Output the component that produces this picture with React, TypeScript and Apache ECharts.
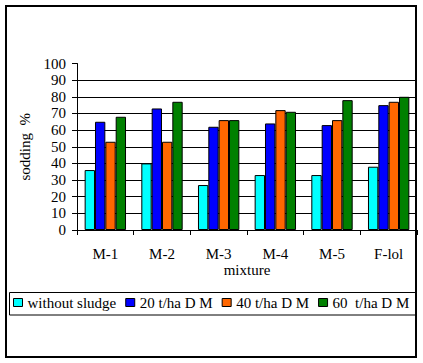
import React, { useEffect, useRef } from "react";
import * as echarts from "echarts";

const categories = ["M-1", "M-2", "M-3", "M-4", "M-5", "F-lol"];
const seriesNames = ["without sludge", "20 t/ha D M", "40 t/ha D M", "60  t/ha D M"];
const withoutSludge = [36, 40, 27, 33, 33, 38];
const dm20 = [65, 73, 62, 64, 63, 75];
const dm40 = [53, 53, 66, 72, 66, 77];
const dm60 = [68, 77, 66, 71, 78, 80];
const colors = ["#00FFFF", "#0000FF", "#FF6600", "#008000"];

const FONT = "'Liberation Serif', 'Times New Roman', serif";

export default function App() {
  const ref = useRef<HTMLDivElement>(null);
  useEffect(() => {
    document.body.style.margin = "0";
    const chart = echarts.init(ref.current!, null, { renderer: "svg" });
    const values = [withoutSludge, dm20, dm40, dm60];
    chart.setOption({
      animation: false,
      backgroundColor: "#fff",
      textStyle: { fontFamily: FONT, color: "#000" },
      grid: { left: 77, right: 6, top: 63.5, bottom: 133, containLabel: false },
      legend: {
        left: 13,
        top: 295,
        padding: 0,
        itemWidth: 9,
        itemHeight: 8,
        itemGap: 9,
        icon: "rect",
        textStyle: { fontFamily: FONT, fontSize: 15, color: "#000" },
        itemStyle: { borderColor: "#000", borderWidth: 1 },
        data: seriesNames,
      },
      xAxis: {
        type: "category",
        data: categories,
        name: "mixture",
        nameLocation: "middle",
        nameGap: 32,
        nameTextStyle: { fontFamily: FONT, fontSize: 15, color: "#000" },
        axisLine: { lineStyle: { color: "#000", width: 1 } },
        axisTick: { show: true, length: 5, lineStyle: { color: "#000" } },
        axisLabel: { fontFamily: FONT, fontSize: 15, color: "#000", margin: 16 },
      },
      yAxis: {
        type: "value",
        min: 0,
        max: 100,
        interval: 10,
        name: "sodding  %",
        nameLocation: "middle",
        nameRotate: 90,
        nameGap: 40,
        nameTextStyle: { fontFamily: FONT, fontSize: 15, color: "#000" },
        axisLine: { show: true, lineStyle: { color: "#000", width: 1 } },
        axisTick: { show: true, length: 5, lineStyle: { color: "#000" } },
        axisLabel: { fontFamily: FONT, fontSize: 15, color: "#000", margin: 11 },
        splitLine: { show: true, showMaxLine: false, lineStyle: { color: "#000", width: 1 } },
      },
      series: seriesNames.map((name, i) => ({
        name,
        type: "bar",
        data: values[i],
        barGap: "0%",
        barCategoryGap: "27%",
        itemStyle: { color: colors[i], borderColor: "#000", borderWidth: 1 },
      })),
      graphic: [
        {
          type: "rect",
          shape: { x: 6, y: 6, width: 410, height: 351 },
          style: { fill: "none", stroke: "#000", lineWidth: 2 },
          z: 100,
        },
        {
          type: "rect",
          shape: { x: 9.5, y: 292.5, width: 407, height: 22.5 },
          style: { fill: "none", stroke: "#000", lineWidth: 1 },
          z: 100,
        },
      ],
    });
    return () => chart.dispose();
  }, []);
  return (
    <div
      ref={ref}
      style={{ position: "absolute", left: 0, top: 0, width: 423, height: 363 }}
    />
  );
}
